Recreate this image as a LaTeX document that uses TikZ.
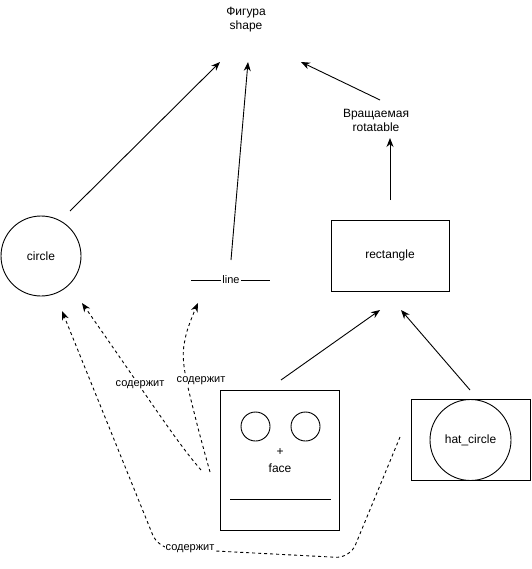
\documentclass[tikz,border=0pt]{standalone}
\usepackage{fontspec}
\setmainfont{Liberation Sans}
\usetikzlibrary{arrows.meta}
\begin{document}
\begin{tikzpicture}[x=1pt,y=-1pt,
  every node/.style={font=\fontsize{12}{14}\selectfont, inner sep=1pt},
  edge/.style={line width=0.9pt, -{Stealth[length=9pt,width=7pt]}},
  dedge/.style={line width=0.9pt, dash pattern=on 3pt off 3pt, -{Stealth[length=9pt,width=7pt]}},
  box/.style={draw, line width=0.9pt},
  elabel/.style={fill=white, inner sep=1pt, font=\fontsize{11}{13}\selectfont}]
\useasboundingbox (0,0) rectangle (531,569);

% classes
\node[align=center] (shape) at (246,20) {Фигура\\shape};
\node[align=center] (rot) at (376,120) {Вращаемая\\rotatable};
\node[box, circle, minimum size=80pt] (circ) at (41,256) {circle};
\node[box, minimum width=118pt, minimum height=71pt] (rect) at (390,255.5) {rectangle};

% line element with its inline label
\coordinate (lineL) at (191,280);
\coordinate (lineR) at (270,280);
\draw[line width=0.9pt] (lineL) -- (lineR);
\node[elabel] (line) at (231,280) {line};

% face: frame, eyes, nose and mouth
\node[box, minimum width=119pt, minimum height=140pt] (face) at (280,460) {};
\node[box, circle, minimum size=29pt, inner sep=0pt] (eyeL) at (255.5,426.5) {};
\node[box, circle, minimum size=29pt, inner sep=0pt] (eyeR) at (305.5,426.5) {};
\node (nose) at (280,452) {+};
\node (facelbl) at (280,468) {face};
\coordinate (mouthL) at (230,499);
\coordinate (mouthR) at (331,499);
\draw[line width=0.9pt] (mouthL) -- (mouthR);

% hat_circle: frame with inscribed circle
\node[box, minimum width=119pt, minimum height=81pt] (hat) at (470.5,440) {};
\node[box, circle, minimum size=81pt, inner sep=0pt] (hatc) at (470.5,440) {hat\_circle};

% inheritance arrows
\coordinate (c1s) at (70,211);   \coordinate (c1e) at (220,62);
\coordinate (l1s) at (231,260);  \coordinate (l1e) at (248,62);
\coordinate (r1s) at (380,100);  \coordinate (r1e) at (301,62);
\coordinate (q1s) at (390,200);  \coordinate (q1e) at (390,138);
\coordinate (f1s) at (281,380);  \coordinate (f1e) at (380,310);
\coordinate (h1s) at (470,390);  \coordinate (h1e) at (401,310);
\draw[edge] (c1s) -- (c1e);
\draw[edge] (l1s) -- (l1e);
\draw[edge] (r1s) -- (r1e);
\draw[edge] (q1s) -- (q1e);
\draw[edge] (f1s) -- (f1e);
\draw[edge] (h1s) -- (h1e);

% containment links
\coordinate (d1s) at (201,470);  \coordinate (d1e) at (82,303);
\draw[dedge] (d1s) .. controls (175,440) and (150,400) .. (d1e);
\node[elabel] (lbl1) at (140,385) {содержит};

\coordinate (d2s) at (210,472);  \coordinate (d2e) at (198,303);
\draw[dedge] plot[smooth, tension=0.6] coordinates {(d2s) (196,420) (184,366) (186,335) (d2e)};
\node[elabel] (lbl2) at (201,381) {содержит};

\coordinate (d3s) at (400,437);  \coordinate (d3e) at (62,311);
\draw[dedge, rounded corners=14pt] (d3s) -- (350,558) -- (158,548) -- (d3e);
\node[elabel] (lbl3) at (190,549) {содержит};
\end{tikzpicture}
\end{document}
